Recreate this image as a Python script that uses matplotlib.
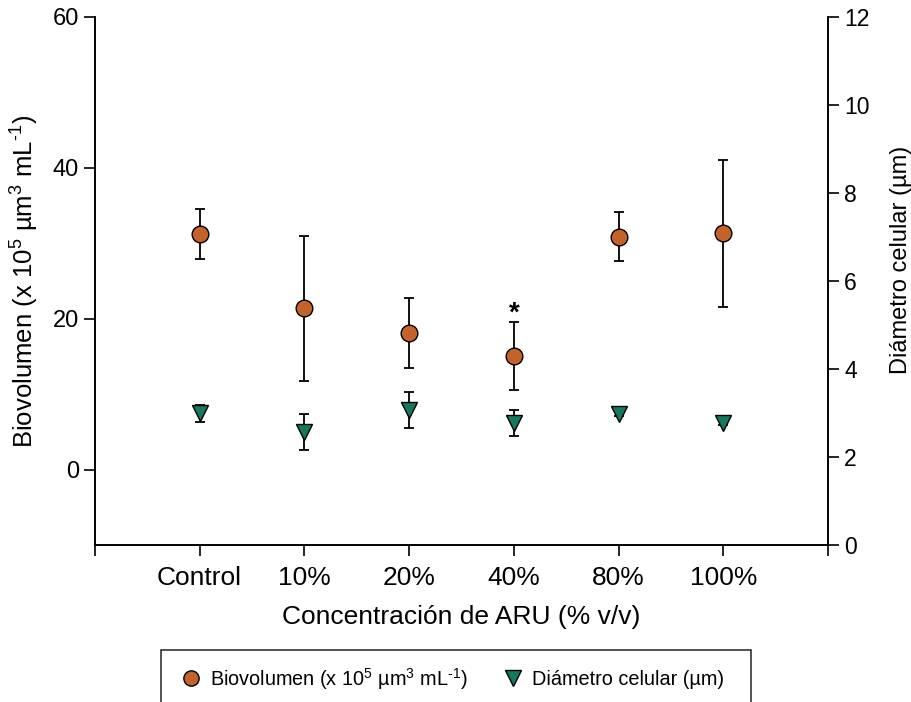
import matplotlib
matplotlib.use("Agg")
import matplotlib.pyplot as plt
from matplotlib.lines import Line2D

plt.rcParams['font.family'] = ['Liberation Sans', 'DejaVu Sans']
plt.rcParams['mathtext.fontset'] = 'custom'
plt.rcParams['mathtext.rm'] = 'Liberation Sans'
plt.rcParams['mathtext.it'] = 'Liberation Sans'
plt.rcParams['mathtext.default'] = 'regular'

# data
categories = ['Control', '10%', '20%', '40%', '80%', '100%']
biovolumen = [31.2, 21.4, 18.1, 15.0, 30.9, 31.3]
biovolumen_err = [3.3, 9.6, 4.6, 4.5, 3.2, 9.7]
diametro = [2.99, 2.57, 3.07, 2.77, 2.98, 2.77]
diametro_err = [0.19, 0.40, 0.40, 0.30, 0.04, 0.04]
significant = [3]  # index marked with *

orange = '#C3622B'
green = '#14795F'
bio_label = 'Biovolumen (x 10$^5$ µm$^3$ mL$^{\\text{-}1}$)'

fig = plt.figure(figsize=(9.12, 7.02), dpi=100)
ax = fig.add_axes([0.104, 0.2236, 0.804, 0.7522])
ax2 = ax.twinx()

x = list(range(len(categories)))

ax.errorbar(x, biovolumen, yerr=biovolumen_err, fmt='none', ecolor='black',
            elinewidth=1.3, capsize=3.6, capthick=1.3, zorder=2)
ax.plot(x, biovolumen, 'o', ms=12, mfc=orange, mec='black', mew=1.0, zorder=3)

ax2.errorbar(x, diametro, yerr=diametro_err, fmt='none', ecolor='black',
             elinewidth=1.3, capsize=3.6, capthick=1.3, zorder=2)
ax2.plot(x, diametro, 'v', ms=11, mfc=green, mec='black', mew=1.0, zorder=3)

for i in significant:
    ax.annotate('*', (x[i], biovolumen[i] + biovolumen_err[i]), xytext=(0, -3),
                textcoords='offset points', ha='center', va='bottom',
                fontsize=20, fontweight='bold')

ax.set_xlim(-1, len(categories))
ax.set_ylim(-10, 60)
ax2.set_ylim(0, 12)

ax.set_xticks(range(-1, len(categories) + 1))
ax.set_xticklabels([''] + categories + [''], fontsize=19)
ax.set_yticks([0, 20, 40, 60])
ax.tick_params(axis='y', labelsize=17, length=8, width=1.2, direction='out')
ax.tick_params(axis='x', length=8, width=1.2, direction='out', pad=7)
ax2.set_yticks(range(0, 13, 2))
ax2.tick_params(axis='y', labelsize=16.5, length=8, width=1.2, direction='out')

for a in (ax, ax2):
    a.spines['top'].set_visible(False)
    for s in ('left', 'right', 'bottom'):
        a.spines[s].set_linewidth(1.2)

ax.set_xlabel('Concentración de ARU (% v/v)', fontsize=19, labelpad=11)
ax.set_ylabel(bio_label, fontsize=18.5, labelpad=8)
ax2.set_ylabel('Diámetro celular (µm)', fontsize=17)
ax2.yaxis.set_label_coords(1.085, 0.54)

handles = [
    Line2D([], [], ls='none', marker='o', ms=11, mfc=orange, mec='black', mew=1.0),
    Line2D([], [], ls='none', marker='v', ms=11, mfc=green, mec='black', mew=1.0),
]
labels = [bio_label, 'Diámetro celular (µm)  ']
leg = fig.legend(handles, labels, loc='lower center', bbox_to_anchor=(0.5, -0.022),
                 ncol=2, fontsize=14.3, frameon=True, fancybox=False,
                 edgecolor='black', handletextpad=0.25, columnspacing=1.6,
                 borderpad=0.8, handlelength=1.4)
leg.get_frame().set_linewidth(1.2)

fig.savefig('out.png', dpi=100)
